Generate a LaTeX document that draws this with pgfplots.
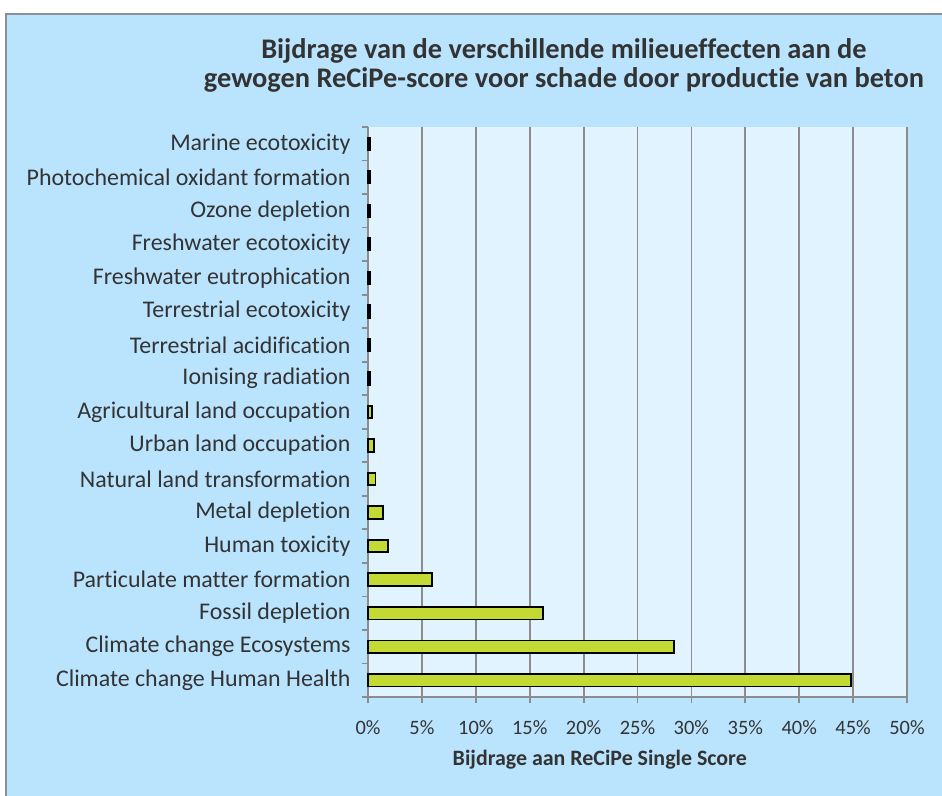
\documentclass[border=0pt]{standalone}
\usepackage{fontspec}
\setmainfont{Carlito}[Ligatures=NoCommon]
\usepackage{pgfplots}
\pgfplotsset{compat=1.18}

\definecolor{outerbg}{HTML}{BAE4FD}
\definecolor{innerbg}{HTML}{E1F3FE}
\definecolor{barfill}{HTML}{C3D934}
\definecolor{txt}{HTML}{333333}
\definecolor{gridgray}{HTML}{8C8C8C}
\definecolor{framegray}{HTML}{8A9096}

\pgfplotstableread{
y  val   name
0  44.8  {Climate change Human Health}
1  28.4  {Climate change Ecosystems}
2  16.2  {Fossil depletion}
3  5.9   {Particulate matter formation}
4  1.86  {Human toxicity}
5  1.42  {Metal depletion}
6  0.70  {Natural land transformation}
7  0.53  {Urban land occupation}
8  0.37  {Agricultural land occupation}
9  0.15  {Ionising radiation}
10 0.15  {Terrestrial acidification}
11 0.15  {Terrestrial ecotoxicity}
12 0.15  {Freshwater eutrophication}
13 0.15  {Freshwater ecotoxicity}
14 0.15  {Ozone depletion}
15 0.15  {Photochemical oxidant formation}
16 0.15  {Marine ecotoxicity}
}\impacts

\begin{document}
\begin{tikzpicture}
\useasboundingbox (0,0) rectangle (942bp,796bp);
\fill[white] (0,0) rectangle (942bp,796bp);
\begin{scope}
\clip (0,0) rectangle (942bp,796bp);
\draw[fill=outerbg, draw=framegray, line width=2.5bp] (6bp,-10bp) rectangle (960bp,782bp);
\end{scope}

\node[anchor=base, text=txt, font=\fontsize{28.5}{34}\selectfont\bfseries] at (564bp,737bp)
  {Bijdrage van de verschillende milieueffecten aan de};
\node[anchor=base, text=txt, font=\fontsize{28.5}{34}\selectfont\bfseries] at (564bp,708bp)
  {gewogen ReCiPe-score voor schade door productie van beton};

\begin{axis}[
  at={(368bp,99bp)}, anchor=south west,
  scale only axis, width=539bp, height=570bp,
  xbar, bar width=12.5bp,
  xmin=0, xmax=50, ymin=-0.5, ymax=16.5,
  axis background/.style={fill=innerbg},
  axis x line*=bottom, axis y line*=left,
  axis line style={draw=gridgray, line width=1.8bp},
  xtick={0,5,...,50},
  xticklabel={\pgfmathprintnumber{\tick}\%},
  /pgf/number format/assume math mode=true,
  ytick={0,...,16},
  yticklabels from table={\impacts}{name},
  minor ytick={-0.5,0.5,...,16.5},
  major tick length=6bp, minor tick length=6bp,
  tick align=outside,
  major y tick style={draw=none},
  minor y tick style={draw=gridgray, line width=1.8bp},
  xtick style={draw=gridgray, line width=1.8bp},
  xmajorgrids, major grid style={draw=gridgray, line width=1.8bp},
  tick label style={text=txt},
  yticklabel style={anchor=east, xshift=-8bp, font=\fontsize{24}{28}\selectfont},
  xticklabel style={anchor=north, yshift=-14bp, font=\fontsize{20.5}{24}\selectfont},
  xlabel={Bijdrage aan ReCiPe Single Score},
  xlabel style={at={(axis description cs:0.430,0)}, anchor=center, yshift=-63bp,
    text=txt, font=\fontsize{22}{26}\selectfont\bfseries},
  clip=false,
]
\addplot[fill=barfill, draw=black, line width=1.8bp] table[x=val, y=y] {\impacts};
\end{axis}
\end{tikzpicture}
\end{document}
